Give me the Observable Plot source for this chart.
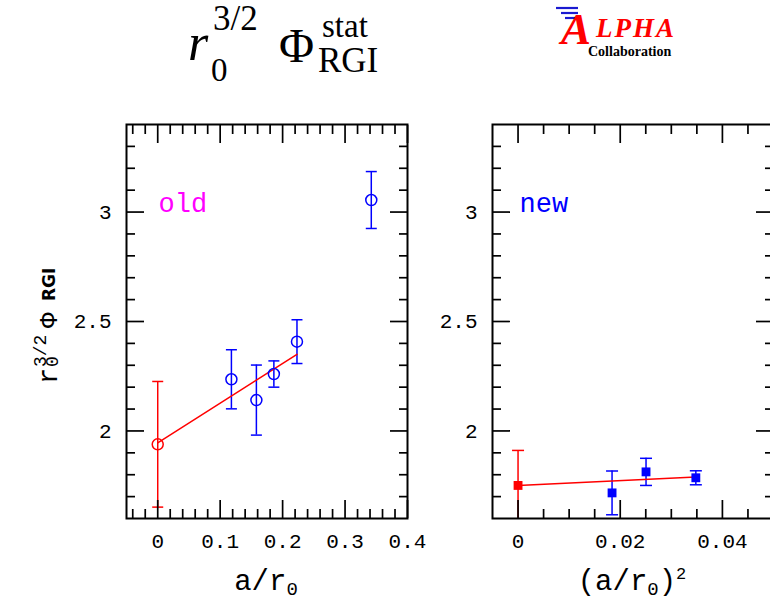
<!DOCTYPE html>
<html>
<head>
<meta charset="utf-8">
<script src="https://cdn.jsdelivr.net/npm/d3@7"></script>
<script src="https://cdn.jsdelivr.net/npm/@observablehq/plot@0.6"></script>
<style>
  html, body { margin: 0; padding: 0; background: #fff; }
  #c { position: relative; width: 770px; height: 602px; overflow: hidden; background: #fff; }
  #c > div.panel { position: absolute; top: 0; height: 602px; }
  #c svg { max-width: none !important; }
  #overlay { position: absolute; left: 0; top: 0; pointer-events: none; }
</style>
</head>
<body>
<div id="c">
  <div class="panel" id="leftPanel" style="left:0px;width:440px"></div>
  <div class="panel" id="rightPanel" style="left:440px;width:340px"></div>
  <svg id="overlay" width="770" height="602">
    <!-- main title -->
    <g font-family="Liberation Serif, DejaVu Serif, serif" fill="#000">
      <text x="188" y="60" font-size="52" font-style="italic">r</text>
      <text x="211" y="81" font-size="33">0</text>
      <text x="213" y="30" font-size="35">3/2</text>
      <text x="279" y="62" font-size="48">Φ</text>
      <text x="322" y="37" font-size="33">stat</text>
      <text x="318" y="72" font-size="35">RGI</text>
    </g>
    <!-- ALPHA logo -->
    <g>
      <line x1="556" y1="8" x2="578" y2="8" stroke="#1a1ad0" stroke-width="2.2"/>
      <line x1="561" y1="13" x2="578" y2="13" stroke="#1a1ad0" stroke-width="2.2"/>
      <line x1="565" y1="18" x2="578" y2="18" stroke="#1a1ad0" stroke-width="2.2"/>
      <text x="561" y="44" font-family="Liberation Serif, serif" font-weight="bold" font-style="italic" font-size="45" fill="#ff0000">A</text>
      <text x="596" y="37" font-family="Liberation Serif, serif" font-weight="bold" font-style="italic" font-size="27" letter-spacing="2" fill="#ff0000">LPHA</text>
      <text x="588" y="56" font-family="Liberation Serif, serif" font-weight="bold" font-size="14" fill="#000">Collaboration</text>
    </g>
    <!-- y axis title (rotated) -->
    <g transform="translate(57,384) rotate(-90)" font-family="Liberation Mono, DejaVu Sans Mono, monospace" fill="#000">
      <text x="0" y="0" font-size="27">r</text>
      <text x="17" y="1" font-size="18">0</text>
      <text x="17" y="-11" font-size="18">3/2</text>
      <text x="56" y="0" font-size="26">Φ</text>
      <text x="83" y="-2" font-size="17" font-weight="bold" font-family="DejaVu Sans, sans-serif">RGI</text>
    </g>
    <!-- x axis titles -->
    <g font-family="Liberation Mono, DejaVu Sans Mono, monospace" fill="#000" font-size="29">
      <text x="266" y="590" text-anchor="middle">a/r<tspan font-size="19" dy="5">0</tspan></text>
      <text x="632" y="590" text-anchor="middle">(a/r<tspan font-size="19" dy="5">0</tspan><tspan dy="-5">)</tspan><tspan font-size="17" dy="-11">2</tspan></text>
    </g>
  </svg>
</div>
<script>
// ---------------- data ----------------
// left panel ("old"): x = a/r0
const oldX   = [0.118, 0.158, 0.186, 0.223, 0.342];
const oldY   = [2.236, 2.141, 2.260, 2.408, 3.055];
const oldErr = [0.135, 0.160, 0.060, 0.100, 0.130];
const oldContX = [0];
const oldContY = [1.939];
const oldContErr = [0.287];
const oldFitX = [0, 0.223];
const oldFitY = [1.945, 2.350];

// right panel ("new"): x = (a/r0)^2
const newX   = [0.0184, 0.02505, 0.0348];
const newY   = [1.717, 1.813, 1.786];
const newErr = [0.100, 0.062, 0.032];
const newContX = [0];
const newContY = [1.751];
const newContErr = [0.160];
const newFitX = [0, 0.0348];
const newFitY = [1.751, 1.790];

// axes / ticks
const leftXDomain = [-0.05, 0.4];
const rightXDomain = [-0.005, 0.05];
const yDomain = [1.6, 3.4];
const leftXMajor = [0, 0.1, 0.2, 0.3, 0.4];
const leftXMinor = [-0.04, -0.02, 0.02, 0.04, 0.06, 0.08, 0.12, 0.14, 0.16, 0.18, 0.22, 0.24, 0.26, 0.28, 0.32, 0.34, 0.36, 0.38];
const rightXMajor = [0, 0.02, 0.04];
const rightXMinor = [0.005, 0.01, 0.015, 0.025, 0.03, 0.035, 0.045];
const yMajor = [2, 2.5, 3];
const yMinor = [1.7, 1.8, 1.9, 2.1, 2.2, 2.3, 2.4, 2.6, 2.7, 2.8, 2.9, 3.1, 3.2, 3.3];
const panelLabels = ["old", "new"];

// ---------------- helpers ----------------
const zip = (xs, ys, es) => xs.map((x, i) => ({x, y: ys[i], e: es ? es[i] : 0}));
const capSymbol = {
  draw(ctx, size) {
    const r = Math.sqrt(size / Math.PI);
    ctx.moveTo(-r, 0);
    ctx.lineTo(r, 0);
  }
};
const MONO = "Liberation Mono, DejaVu Sans Mono, monospace";
const fmt = d => String(+d.toFixed(4));

function frameTicks(xMajor, xMinor) {
  const common = {fill: "none", label: null, stroke: "#000", strokeWidth: 1.7};
  return [
    Plot.axisX(xMinor, {...common, anchor: "bottom", tickSize: -9}),
    Plot.axisX(xMinor, {...common, anchor: "top", tickSize: -9}),
    Plot.axisX(xMajor, {...common, anchor: "bottom", tickSize: -18}),
    Plot.axisX(xMajor, {...common, anchor: "top", tickSize: -18}),
    Plot.axisY(yMinor, {...common, anchor: "left", tickSize: -9}),
    Plot.axisY(yMinor, {...common, anchor: "right", tickSize: -9}),
    Plot.axisY(yMajor, {...common, anchor: "left", tickSize: -18}),
    Plot.axisY(yMajor, {...common, anchor: "right", tickSize: -18}),
    Plot.axisX(xMajor, {anchor: "bottom", tickSize: 0, tickPadding: 15, tickFormat: fmt, label: null, fontSize: 21, fontFamily: MONO, fill: "#000"}),
    Plot.axisY(yMajor, {anchor: "left", tickSize: 0, tickPadding: 15, tickFormat: fmt, label: null, fontSize: 21, fontFamily: MONO, fill: "#000"}),
    Plot.frame({stroke: "#000", strokeWidth: 2})
  ];
}

function errorBars(data, color, capR, clip) {
  return [
    Plot.ruleX(data, {x: "x", y1: d => d.y - d.e, y2: d => d.y + d.e, stroke: color, strokeWidth: 1.5, clip}),
    Plot.dot(data, {x: "x", y: d => d.y + d.e, symbol: capSymbol, r: capR, stroke: color, strokeWidth: 1.5, clip}),
    Plot.dot(data, {x: "x", y: d => d.y - d.e, symbol: capSymbol, r: capR, stroke: color, strokeWidth: 1.5, clip})
  ];
}

// ---------------- left panel ----------------
const oldData = zip(oldX, oldY, oldErr);
const oldCont = zip(oldContX, oldContY, oldContErr);
const oldFit = zip(oldFitX, oldFitY);

const left = Plot.plot({
  width: 440, height: 602,
  marginLeft: 126, marginRight: 33, marginTop: 124, marginBottom: 84,
  x: {domain: leftXDomain},
  y: {domain: yDomain},
  style: {background: "transparent", overflow: "visible"},
  marks: [
    ...errorBars(oldCont, "#ff0000", 5.5, false),
    ...errorBars(oldData, "#0000ff", 5.5, false),
    Plot.line(oldFit, {x: "x", y: "y", stroke: "#ff0000", strokeWidth: 1.5}),
    Plot.dot(oldCont, {x: "x", y: "y", r: 5.5, stroke: "#ff0000", strokeWidth: 1.5, fill: "none"}),
    Plot.dot(oldData, {x: "x", y: "y", r: 5.5, stroke: "#0000ff", strokeWidth: 1.5, fill: "none"}),
    Plot.text([panelLabels[0]], {text: d => d, frameAnchor: "top-left", dx: 32, dy: 79, textAnchor: "start", lineAnchor: "middle", fill: "#ff00ff", fontSize: 27, fontFamily: MONO}),
    ...frameTicks(leftXMajor, leftXMinor)
  ]
});
document.getElementById("leftPanel").appendChild(left);

// ---------------- right panel ----------------
const newData = zip(newX, newY, newErr);
const newCont = zip(newContX, newContY, newContErr);
const newFit = zip(newFitX, newFitY);

const right = Plot.plot({
  width: 340, height: 602,
  marginLeft: 52, marginRight: 7, marginTop: 124, marginBottom: 84,
  x: {domain: rightXDomain},
  y: {domain: yDomain},
  style: {background: "transparent", overflow: "visible"},
  marks: [
    ...errorBars(newCont, "#ff0000", 6, "frame"),
    ...errorBars(newData, "#0000ff", 6, "frame"),
    Plot.line(newFit, {x: "x", y: "y", stroke: "#ff0000", strokeWidth: 1.5}),
    Plot.dot(newCont, {x: "x", y: "y", r: 5, symbol: "square", fill: "#ff0000"}),
    Plot.dot(newData, {x: "x", y: "y", r: 5, symbol: "square", fill: "#0000ff"}),
    Plot.text([panelLabels[1]], {text: d => d, frameAnchor: "top-left", dx: 27, dy: 79, textAnchor: "start", lineAnchor: "middle", fill: "#0000ff", fontSize: 27, fontFamily: MONO}),
    ...frameTicks(rightXMajor, rightXMinor)
  ]
});
document.getElementById("rightPanel").appendChild(right);
</script>
</body>
</html>
